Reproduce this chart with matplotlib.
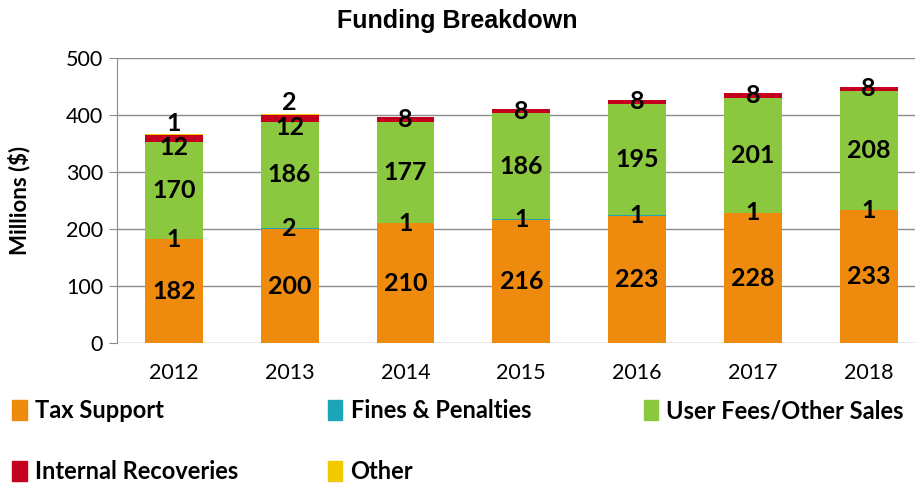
import numpy as np
import matplotlib
matplotlib.use("Agg")
import matplotlib.pyplot as plt
from matplotlib.patches import Patch

years = ["2012", "2013", "2014", "2015", "2016", "2017", "2018"]
tax = [182, 200, 210, 216, 223, 228, 233]
fines = [1, 2, 1, 1, 1, 1, 1]
user_fees = [170, 186, 177, 186, 195, 201, 208]
internal = [12, 12, 8, 8, 8, 8, 8]
other = [1, 2, 0, 0, 0, 0, 0]

series = [
    ("Tax Support", tax, "#EE8A0E"),
    ("Fines & Penalties", fines, "#1CA5B8"),
    ("User Fees/Other Sales", user_fees, "#8CC83F"),
    ("Internal Recoveries", internal, "#C4001E"),
    ("Other", other, "#F2C800"),
]

lab_font = "Lato"

fig = plt.figure(figsize=(9.15, 4.84), dpi=100)
ax = fig.add_axes([0.128, 0.291, 0.872, 0.589])

x = np.arange(len(years))
bottom = np.zeros(len(years))
for name, vals, col in series:
    vals = np.array(vals, dtype=float)
    ax.bar(x, vals, 0.5, bottom=bottom, color=col, zorder=3)
    for i, v in enumerate(vals):
        if v <= 0:
            continue
        y = bottom[i] + v / 2
        if name == "Other":
            y = bottom[i] + v + 20
        elif name == "Internal Recoveries" and other[i] > 0:
            y -= 15  # pushed down so it clears the "Other" label
        ax.text(x[i], y, str(int(v)), ha="center", va="center",
                fontsize=18, fontweight="bold", family=lab_font, zorder=5)
    bottom += vals

ax.set_ylim(0, 500)
ax.set_yticks(range(0, 501, 100))
ax.set_xlim(-0.49, 6.4)
ax.set_xticks(x)
ax.set_xticklabels(years)
ax.grid(axis="y", color="#8c8c8c", linewidth=1, zorder=0)
for s in ["top", "right", "bottom"]:
    ax.spines[s].set_visible(False)
ax.spines["left"].set_color("#8c8c8c")
ax.tick_params(axis="y", length=6, color="#8c8c8c", labelsize=15.5, pad=4)
ax.tick_params(axis="x", length=0, labelsize=15.5, pad=14)
for t in ax.get_xticklabels() + ax.get_yticklabels():
    t.set_family(lab_font)
ax.set_ylabel("Millions ($)", fontsize=16, fontweight="bold", family=lab_font, labelpad=26)
fig.suptitle("Funding Breakdown", x=0.5, y=0.982, va="top", fontsize=18,
             fontweight="bold", family="Liberation Sans")

# legend: three columns placed where the original puts them
cols = [[0, 3], [1, 4], [2]]
col_x = [-0.007, 0.338, 0.683]
for xs, idx in zip(col_x, cols):
    hs = [Patch(color=series[k][2], label=series[k][0]) for k in idx]
    fig.legend(handles=hs, loc="upper left", bbox_to_anchor=(xs, 0.214),
               ncol=1, frameon=False, handlelength=0.6, handleheight=0.9,
               handletextpad=0.35, labelspacing=1.6, borderpad=0.3,
               prop={"family": lab_font, "weight": "bold", "size": 17})

fig.savefig("out.png", dpi=100)
